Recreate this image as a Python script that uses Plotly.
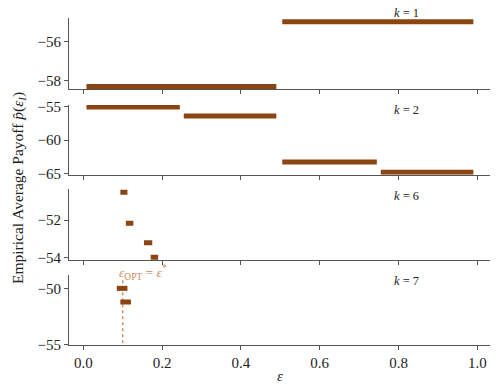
import plotly.graph_objects as go

# ---- data ----
k_labels = ["1", "2", "6", "7"]
# each panel: segments (eps_start, eps_end, payoff)
k1_start = [0.008, 0.505]
k1_end = [0.49, 0.99]
k1_val = [-58.28, -54.96]

k2_start = [0.008, 0.255, 0.505, 0.755]
k2_end = [0.245, 0.49, 0.745, 0.99]
k2_val = [-55.0, -56.36, -63.3, -64.85]

k6_start = [0.094, 0.108, 0.154, 0.171]
k6_end = [0.112, 0.127, 0.175, 0.19]
k6_val = [-50.51, -52.18, -53.22, -54.0]

k7_start = [0.085, 0.094]
k7_end = [0.112, 0.121]
k7_val = [-50.0, -51.22]

eps_opt = 0.1
eps_opt_line = [-54.9, -49.0]

x_tick_vals = [0, 0.2, 0.4, 0.6, 0.8, 1.0]
x_tick_text = ["0.0", "0.2", "0.4", "0.6", "0.8", "1.0"]

panels = [
    (k1_start, k1_end, k1_val),
    (k2_start, k2_end, k2_val),
    (k6_start, k6_end, k6_val),
    (k7_start, k7_end, k7_val),
]
y_ranges = [[-58.41, -54.77], [-65.2, -54.7], [-54.16, -50.34], [-55.06, -48.81]]
y_dticks = [2, 5, 2, 5]
domains = [[0.783, 1.0], [0.521, 0.734], [0.259, 0.477], [0.0, 0.214]]
# k-label centres, page pixel y
k_label_page_y = [12.5, 110, 195.5, 281]

BROWN = "#8b4513"
SPINE = "#555555"
FONT = "Liberation Serif"

# the page body adds an 8px margin around the figure div
OFF = 8
W, H = 498 - 2 * OFF, 391 - 2 * OFF
ML, MR, MT, MB = 69 - OFF, 0, 18 - OFF, H - (345 - OFF)
plot_w = W - ML - MR
plot_h = H - MT - MB
# keep the reference scale: eps=0 at page x 83.3, eps=1 at page x 477.3
px_per_unit = 394.0
x0_page = 83.3
x_range = [(69 - x0_page) / px_per_unit, (OFF + W - x0_page) / px_per_unit]


def page_y_to_paper(py):
    return (345 - py) / plot_h


fig = go.Figure()


def segs(xs, xe, vals):
    xx, yy = [], []
    for a, b, v in zip(xs, xe, vals):
        xx += [a, b, None]
        yy += [v, v, None]
    return xx, yy


# dashed optimal epsilon line in bottom panel (drawn first, under the segments)
fig.add_trace(go.Scatter(
    x=[eps_opt, eps_opt], y=eps_opt_line, mode="lines",
    line=dict(color="rgba(190,120,70,0.8)", width=1.5, dash="dot"),
    xaxis="x4", yaxis="y4", showlegend=False, hoverinfo="skip"))

for i, (xs, xe, vals) in enumerate(panels):
    n = i + 1
    xx, yy = segs(xs, xe, vals)
    fig.add_trace(go.Scatter(
        x=xx, y=yy, mode="lines", line=dict(color=BROWN, width=5),
        xaxis=f"x{n}" if n > 1 else "x", yaxis=f"y{n}" if n > 1 else "y",
        showlegend=False, hoverinfo="skip"))

layout = dict(
    width=W, height=H,
    margin=dict(l=ML, r=MR, t=MT, b=MB, pad=0),
    plot_bgcolor="white", paper_bgcolor="white",
    font=dict(family=FONT, size=15, color="#222222"),
    showlegend=False,
)
for i in range(4):
    n = i + 1
    xk = "xaxis" if n == 1 else f"xaxis{n}"
    yk = "yaxis" if n == 1 else f"yaxis{n}"
    xa = dict(
        domain=[0, 1], anchor="y" if n == 1 else f"y{n}",
        range=x_range, tickvals=x_tick_vals, ticktext=x_tick_text,
        showticklabels=(n == 4), ticks="outside", ticklen=4, tickcolor=SPINE,
        showline=True, linecolor=SPINE, linewidth=1, showgrid=False, zeroline=False,
        automargin=False,
    )
    if n > 1:
        xa["matches"] = "x"
    layout[xk] = xa
    layout[yk] = dict(
        domain=domains[i], anchor="x" if n == 1 else f"x{n}",
        range=y_ranges[i], dtick=y_dticks[i], ticks="outside", ticklen=4,
        tickcolor=SPINE, showline=True, linecolor=SPINE, linewidth=1,
        showgrid=False, zeroline=False, automargin=False,
    )

fig.update_layout(**layout)

for i in range(4):
    fig.add_annotation(x=0.82, y=page_y_to_paper(k_label_page_y[i]), xref="x", yref="paper",
                       text=f"<i>k</i> = {k_labels[i]}", showarrow=False,
                       font=dict(size=12.5, color="#222222", family=FONT),
                       xanchor="center", yanchor="middle")

fig.add_annotation(x=0.152, y=page_y_to_paper(272), xref="x", yref="paper",
                   text="<i>ε</i><sub>OPT</sub> = <i>ε</i><sup>*</sup>", showarrow=False,
                   font=dict(size=13.5, color="#c98a5c", family=FONT),
                   xanchor="center", yanchor="middle")

# x-axis title (page y 376)
fig.add_annotation(x=0.5, y=page_y_to_paper(376), xref="paper", yref="paper",
                   text="<i>ε</i>", showarrow=False, xanchor="center", yanchor="middle",
                   font=dict(size=15, family=FONT, color="#222222"))

# y-axis title (page x ~17)
fig.add_annotation(x=(18 - 69) / plot_w, y=page_y_to_paper(188), xref="paper", yref="paper",
                   xanchor="center", yanchor="middle",
                   text="Empirical Average Payoff <i>p\u0302</i>(<i>ε</i><sub><i>I</i></sub>)",
                   textangle=-90, showarrow=False,
                   font=dict(size=15.5, family=FONT, color="#222222"))

fig.write_html("out.html")
